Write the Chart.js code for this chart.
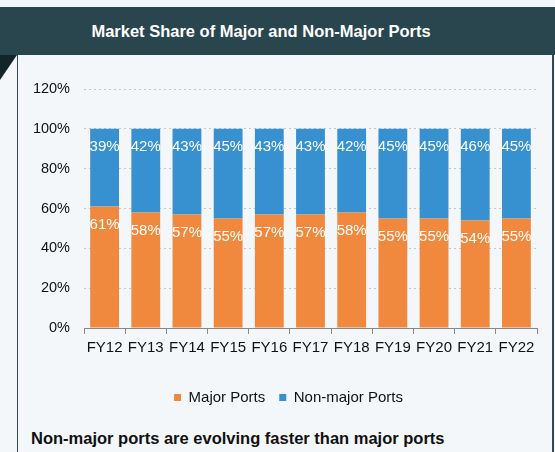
<!DOCTYPE html>
<html>
<head>
<meta charset="utf-8">
<script src="https://cdn.jsdelivr.net/npm/chart.js@4.4.0/dist/chart.umd.min.js"></script>
<style>
    html, body { margin: 0; padding: 0; }
    body { width: 555px; height: 452px; background: #f4f7fa; position: relative; overflow: hidden; font-family: 'Liberation Sans', Arial, sans-serif; }
    #banner { position: absolute; left: 0; top: 7px; width: 555px; height: 48px; background: #29464f; color: #fff; font-weight: bold; font-size: 16.5px; text-align: center; line-height: 49px; box-sizing: border-box; padding-right: 33px; }
    #corner { position: absolute; left: 0; top: 55px; width: 0; height: 0; border-top: 25px solid #13252a; border-right: 17px solid transparent; }
    #frame { position: absolute; left: 17px; top: 55px; width: 534px; height: 400px; border-left: 1.5px solid #2f4a52; border-right: 2px solid #2f4a52; }
    #wrap { position: absolute; left: 18px; top: 55px; width: 533px; height: 360px; }
    #note { position: absolute; left: 31px; top: 429px; font-weight: bold; font-size: 16.5px; color: #111; }
</style>
</head>
<body>
<div id="banner">Market Share of Major and Non-Major Ports</div>
<div id="corner"></div>
<div id="frame"></div>
<div id="wrap"><canvas id="portChart"></canvas></div>
<div id="note">Non-major ports are evolving faster than major ports</div>

<script>
// Fiscal years and share (%) for each port type
const years = ['FY12', 'FY13', 'FY14', 'FY15', 'FY16', 'FY17', 'FY18', 'FY19', 'FY20', 'FY21', 'FY22'];
const majorShare = [61, 58, 57, 55, 57, 57, 58, 55, 55, 54, 55];
const nonMajorShare = [39, 42, 43, 45, 43, 43, 42, 45, 45, 46, 45];
const yTicks = [0, 20, 40, 60, 80, 100, 120];

const ORANGE = '#f0883d';
const BLUE = '#3790d0';

// white % labels near the top of every segment
const segmentLabels = {
    id: 'segmentLabels',
    afterDatasetsDraw(chart) {
        const ctx = chart.ctx;
        ctx.save();
        ctx.fillStyle = '#ffffff';
        ctx.font = '15px "Liberation Sans", Arial, sans-serif';
        ctx.textAlign = 'center';
        ctx.textBaseline = 'middle';
        chart.data.datasets.forEach((ds, i) => {
            chart.getDatasetMeta(i).data.forEach((bar, j) => {
                ctx.fillText(ds.data[j] + '%', bar.x, bar.y + 18);
            });
        });
        ctx.restore();
    }
};

// legend sits a little right of centre in the original
const nudgeLegend = {
    id: 'nudgeLegend',
    afterLayout(chart) {
        chart.legend.left += 11;
        chart.legend.right += 11;
    }
};

const ctx = document.getElementById('portChart').getContext('2d');
new Chart(ctx, {
    type: 'bar',
    data: {
        labels: years,
        datasets: [
            { label: 'Major Ports', data: majorShare, backgroundColor: ORANGE, barPercentage: 0.7, categoryPercentage: 1 },
            { label: 'Non-major Ports', data: nonMajorShare, backgroundColor: BLUE, barPercentage: 0.7, categoryPercentage: 1 }
        ]
    },
    options: {
        responsive: true,
        maintainAspectRatio: false,
        animation: false,
        layout: { padding: { top: 34, right: 14, left: 0, bottom: 0 } },
        scales: {
            x: {
                stacked: true,
                grid: { display: true, drawOnChartArea: false, offset: true, color: '#888', tickLength: 6 },
                border: { color: '#888' },
                ticks: { color: '#111', autoSkip: false, maxRotation: 0, minRotation: 0, font: { size: 15, family: '"Liberation Sans", Arial' }, padding: 5 },
                afterFit: s => { s.height = 48; }
            },
            y: {
                stacked: true,
                min: 0,
                max: 120,
                afterBuildTicks: s => { s.ticks = yTicks.map(v => ({ value: v })); },
                grid: { color: '#c4c8cc', drawTicks: false },
                border: { display: false, dash: [2, 3] },
                ticks: { color: '#111', padding: 14, font: { size: 14.5, family: '"Liberation Sans", Arial' }, callback: v => v + '%' },
                afterFit: s => { s.width = 66; }
            }
        },
        plugins: {
            legend: {
                position: 'bottom',
                labels: { boxWidth: 7, boxHeight: 7, padding: 14, color: '#111', font: { size: 15, family: '"Liberation Sans", Arial' } }
            },
            tooltip: { enabled: false }
        }
    },
    plugins: [segmentLabels, nudgeLegend]
});
</script>
</body>
</html>
